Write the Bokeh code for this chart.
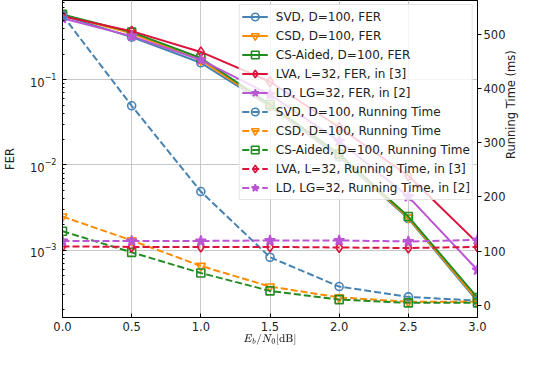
import math
from bokeh.plotting import figure
from bokeh.models import (Range1d, LinearScale, LinearAxis, Legend, LegendItem,
                          FixedTicker, SingleIntervalTicker, PrintfTickFormatter)
from bokeh.embed import file_html
from bokeh.resources import INLINE

snr = [0.0, 0.5, 1.0, 1.5, 2.0, 2.5, 3.0]

fer_svd = [0.57, 0.316, 0.158, 0.0485, 0.0124, 0.00235, 0.00025]
fer_csd = [0.575, 0.35, 0.17, 0.050, 0.013, 0.0024, 0.00026]
fer_cs = [0.585, 0.362, 0.180, 0.0512, 0.0134, 0.00248, 0.000277]
fer_lva = [0.555, 0.372, 0.212, 0.0948, 0.0277, 0.00745, 0.00121]
fer_ld = [0.526, 0.325, 0.171, 0.067, 0.019, 0.00425, 0.000585]

rt_svd = [535, 368, 210, 89, 35, 16, 9]
rt_csd = [164, 120, 73, 35, 15, 7, 7]
rt_cs = [137, 98, 60, 27, 11, 5, 5]
rt_lva = [109, 108, 108, 108, 107, 106, 108]
rt_ld = [119, 119, 119, 120, 120, 118, 121]

fer_labels = ["SVD, D=100, FER", "CSD, D=100, FER", "CS-Aided, D=100, FER",
              "LVA, L=32, FER, in [3]", "LD, LG=32, FER, in [2]"]
rt_labels = ["SVD, D=100, Running Time", "CSD, D=100, Running Time",
             "CS-Aided, D=100, Running Time", "LVA, L=32, Running Time, in [3]",
             "LD, LG=32, Running Time, in [2]"]

colors = ["steelblue", "darkorange", "forestgreen", "crimson", "mediumorchid"]
markers = ["circle", "inverted_triangle", "square", "diamond", "star"]
msizes = [8, 9, 8, 10, 11]
filled = [False, False, False, False, True]

FONT = "DejaVu Sans"

p = figure(width=528, height=349, y_axis_type="log",
           x_range=Range1d(0, 3), y_range=Range1d(1.62e-4, 0.851),
           output_backend="svg", toolbar_location=None,
           min_border_left=55, min_border_right=44, min_border_top=0,
           min_border_bottom=32)
p.extra_y_ranges = {"rt": Range1d(-22, 562)}
p.extra_y_scales = {"rt": LinearScale()}

ax2 = LinearAxis(y_range_name="rt", axis_label="Running Time (ms)",
                 ticker=SingleIntervalTicker(interval=100))
p.add_layout(ax2, "right")

p.outline_line_color = "black"
p.outline_line_width = 1
p.outline_line_alpha = 1

p.xaxis.ticker = FixedTicker(ticks=snr)
p.xaxis.formatter = PrintfTickFormatter(format="%.1f")
p.xaxis.axis_label = r"$$E_b/N_0\mathrm{[dB]}$$"
p.yaxis[0].axis_label = "FER"

for ax in [p.xaxis[0], p.yaxis[0], ax2]:
    ax.axis_line_color = "black"
    ax.major_label_text_font = FONT
    ax.major_label_text_font_size = "11.5px"
    ax.major_label_text_color = "#222222"
    ax.axis_label_text_font = FONT
    ax.axis_label_text_font_size = "11.5px"
    ax.axis_label_text_font_style = "normal"
    ax.axis_label_text_color = "#222222"
    ax.major_tick_line_color = "black"

for ax in [p.xaxis[0], p.yaxis[0]]:
    ax.major_tick_in = 4
    ax.major_tick_out = 0
    ax.minor_tick_in = 2
    ax.minor_tick_out = 0
p.xaxis.minor_tick_line_color = None
p.xaxis.axis_label_text_font_size = "9px"
p.xaxis.axis_label_standoff = 0
p.xaxis.major_label_standoff = 4
p.yaxis[0].major_label_standoff = 6
p.yaxis[0].axis_label_standoff = 10
ax2.major_tick_in = 0
ax2.major_tick_out = 4
ax2.minor_tick_line_color = None
ax2.major_label_standoff = 2
ax2.axis_label_standoff = 3
ax2.axis_label_orientation = math.pi / 2

p.xgrid.grid_line_color = "#c8c8c8"
p.ygrid.grid_line_color = "#c8c8c8"

items = []
fer_sets = [fer_svd, fer_csd, fer_cs, fer_lva, fer_ld]
rt_sets = [rt_svd, rt_csd, rt_cs, rt_lva, rt_ld]

for i in range(5):
    fc = colors[i] if filled[i] else None
    l = p.line(snr, fer_sets[i], color=colors[i], line_width=2)
    s = p.scatter(snr, fer_sets[i], marker=markers[i], size=msizes[i],
                  line_color=colors[i], fill_color=fc, line_width=1.6)
    items.append(LegendItem(label=fer_labels[i], renderers=[l, s]))

for i in range(5):
    fc = colors[i] if filled[i] else None
    l = p.line(snr, rt_sets[i], color=colors[i], line_width=2,
               line_dash="7 3", y_range_name="rt")
    s = p.scatter(snr, rt_sets[i], marker=markers[i], size=msizes[i],
                  line_color=colors[i], fill_color=fc, line_width=1.6,
                  y_range_name="rt")
    items.append(LegendItem(label=rt_labels[i], renderers=[l, s]))

legend = Legend(items=items, location="top_right")
legend.margin = 4
legend.padding = 2
legend.spacing = 0
legend.label_height = 19
legend.glyph_height = 19
legend.glyph_width = 26
legend.label_standoff = 8
legend.label_text_font = FONT
legend.label_text_font_size = "12px"
legend.label_text_color = "#222222"
legend.border_line_color = "#cccccc"
legend.background_fill_alpha = 0.8
p.add_layout(legend, "center")

open("out.html", "w").write(file_html(p, INLINE))
